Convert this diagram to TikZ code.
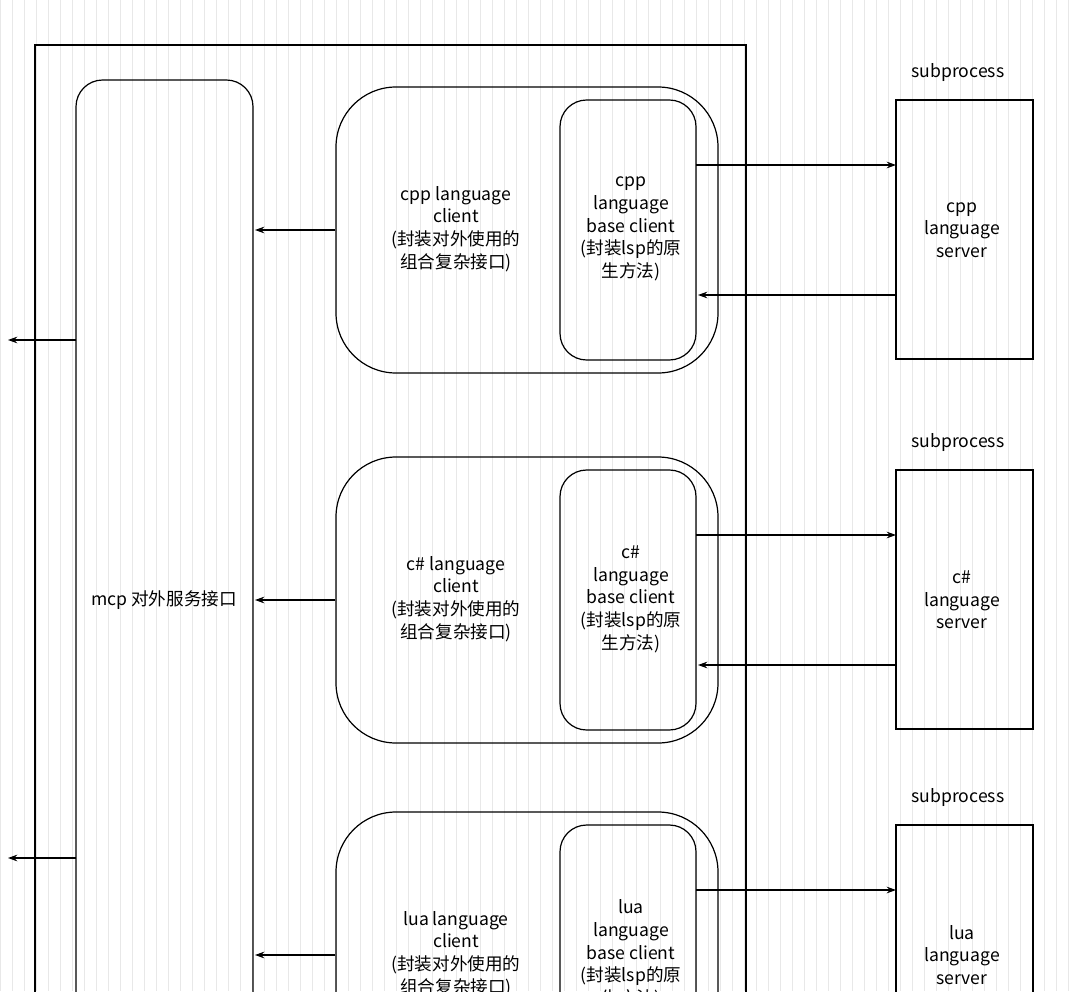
\documentclass[tikz,border=0pt]{standalone}
\usepackage{fontspec}
\usetikzlibrary{arrows.meta}
\setmainfont{Noto Sans CJK SC}
\begin{document}
\begin{tikzpicture}[x=0.75pt,y=-0.75pt,
  txt/.style={align=center,font=\fontsize{13.2}{17}\selectfont},
  arr/.style={-{Stealth[length=7pt,width=5pt]},line width=0.8pt},
  box/.style={draw,line width=0.9pt}]
\useasboundingbox (0,0) rectangle (1080,991);
\begin{scope}
\clip (0,0) rectangle (1080,991);
\fill[white] (0,0) rectangle (1080,991);
\draw[black!9,line width=0.5pt,step=12] (0,0) grid (1080,991);
\draw[box] (35,45) rectangle (746,1100);
\draw[box,rounded corners=20] (76,80) rectangle (253,1100);
\node[txt] (mcp) at (164,600) {mcp 对外服务接口};
\coordinate (o1) at (8,340); \coordinate (o2) at (8,858);
\draw[arr] (76,340) -- (o1);
\draw[arr] (76,858) -- (o2);
\foreach \dy/\nm/\lang in {0/a/cpp,370/b/c\#,725/c/lua}{
  \begin{scope}[yshift=-\dy*0.75pt]
  \node[box,rounded corners=45,minimum width=382*0.75pt,minimum height=286*0.75pt] (cl\nm) at (527,230) {};
  \node[txt] at (456,229) {\lang\ language\\client\\(封装对外使用的\\组合复杂接口)};
  \node[box,rounded corners=20,minimum width=136*0.75pt,minimum height=260*0.75pt] (bc\nm) at (628,230) {};
  \node[txt] at (631,229) {\lang\\language\\base client\\(封装lsp的原\\生方法)};
  \node[box,minimum width=137*0.75pt,minimum height=259*0.75pt] (sv\nm) at (964.5,229.5) {};
  \node[txt] at (962,230) {\lang\\language\\server};
  \node[txt] at (958,73) {subprocess};
  \draw[arr] (cl\nm.west) -- (255,230);
  \draw[arr] (696,165) -- (896,165);
  \draw[arr] (896,295) -- (698,295);
  \end{scope}
}
\end{scope}
\end{tikzpicture}
\end{document}
